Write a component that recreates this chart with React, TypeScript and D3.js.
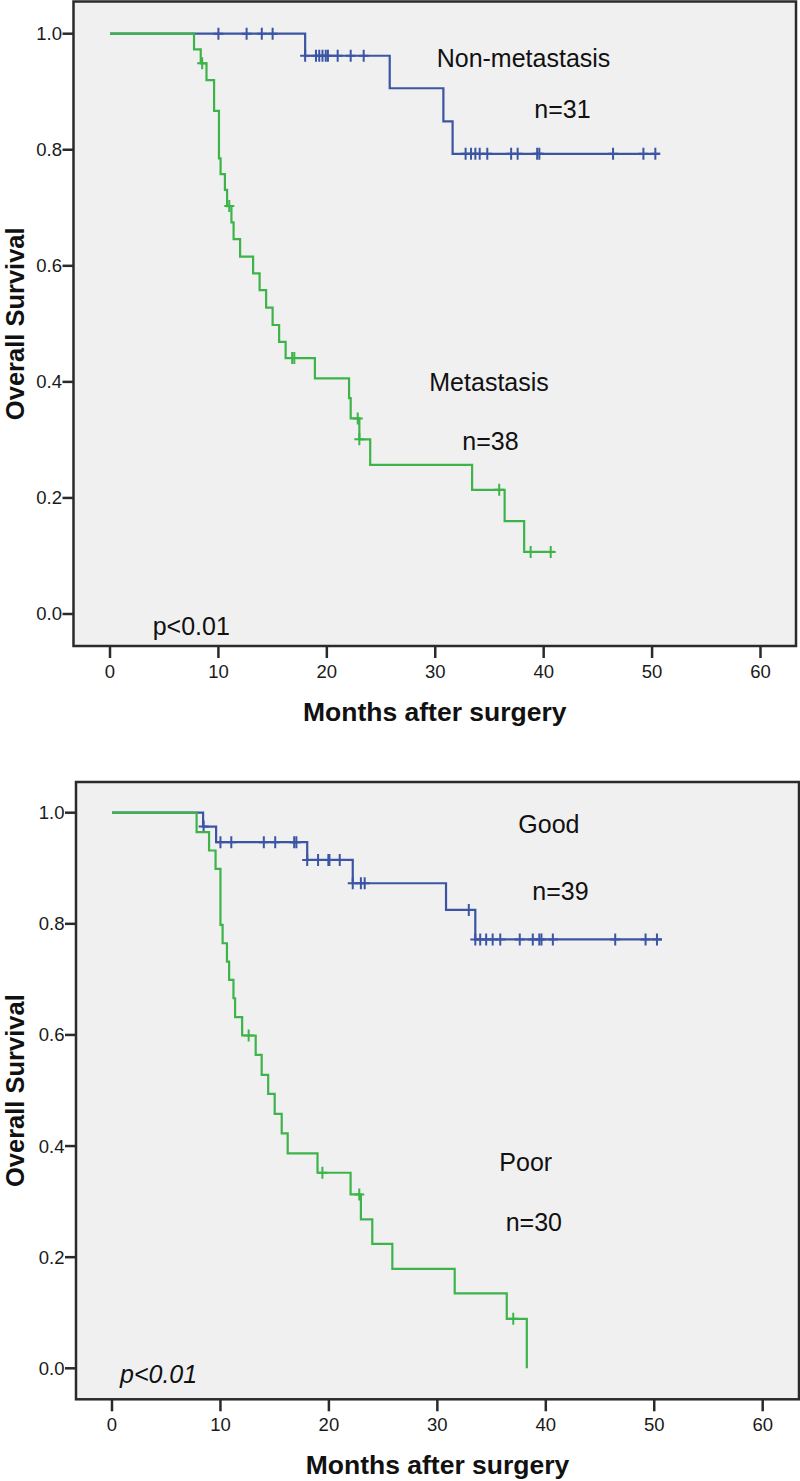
import * as React from "react";
import * as d3 from "d3";

type Step = [number, number];

// axis ticks shared by both panels
const xTicks = [0, 10, 20, 30, 40, 50, 60];
const yTicks = [0, 0.2, 0.4, 0.6, 0.8, 1.0];

// top panel: Non-metastasis (blue) vs Metastasis (green)
const nonMetaSteps: Step[] = [
  [0, 1.0], [18.0, 0.962], [25.8, 0.906], [30.75, 0.849], [31.6, 0.793],
];
const nonMetaEnd = 50.7;
const nonMetaCensored = [
  10.0, 12.6, 14.0, 15.0,
  18.0, 19.0, 19.3, 19.6, 19.9, 20.1, 21.0, 22.2, 23.4,
  32.8, 33.3, 33.7, 34.1, 34.8, 37.0, 37.6, 39.4, 39.6, 46.4, 49.2, 50.3,
];

const metaSteps: Step[] = [
  [0, 1.0], [7.75, 0.973], [8.37, 0.949], [8.9, 0.92], [9.6, 0.867],
  [10.05, 0.785], [10.2, 0.758], [10.6, 0.731], [10.8, 0.703], [11.2, 0.675],
  [11.4, 0.646], [12.0, 0.616], [13.2, 0.587], [13.8, 0.558], [14.4, 0.528],
  [15.0, 0.498], [15.6, 0.469], [16.2, 0.441], [18.9, 0.406], [22.05, 0.372],
  [22.2, 0.337], [23.0, 0.301], [24.0, 0.257], [33.4, 0.214], [36.4, 0.16],
  [38.2, 0.107],
];
const metaEnd = 41.0;
const metaCensored = [8.5, 11.0, 16.8, 17.0, 22.85, 23.0, 35.9, 38.8, 40.65];

// bottom panel: Good (blue) vs Poor (green)
const goodSteps: Step[] = [
  [0, 1.0], [8.4, 0.975], [9.6, 0.947], [18.0, 0.915], [22.2, 0.873],
  [30.8, 0.825], [33.5, 0.772],
];
const goodEnd = 50.7;
const goodCensored = [
  8.45, 10.0, 11.0, 14.0, 15.05, 16.8, 17.0,
  18.0, 19.0, 19.95, 20.05, 21.0,
  22.2, 22.95, 23.3, 32.9,
  33.5, 33.95, 34.5, 35.1, 35.8, 37.6, 38.8, 39.4, 39.6, 40.65, 46.4, 49.2, 50.25,
];

const poorSteps: Step[] = [
  [0, 1.0], [7.8, 0.965], [8.95, 0.932], [9.55, 0.899], [10.0, 0.798],
  [10.2, 0.765], [10.6, 0.732], [10.8, 0.699], [11.2, 0.666], [11.35, 0.632],
  [12.0, 0.599], [13.25, 0.564], [13.8, 0.528], [14.4, 0.494], [15.0, 0.458],
  [15.65, 0.423], [16.2, 0.387], [18.95, 0.352], [22.0, 0.313], [22.95, 0.268],
  [24.0, 0.224], [25.85, 0.179], [31.6, 0.135], [36.4, 0.089], [38.25, 0.0],
];
const poorEnd = 38.25;
const poorCensored = [12.6, 19.4, 22.8, 37.0];

const BLUE = "#3b55a4";
const GREEN = "#3db44a";
const FONT = "'Liberation Sans', Arial, Helvetica, sans-serif";

type Curve = { steps: Step[]; end: number; censored: number[]; color: string };
type Label = { text: string; x: number; y: number; italic?: boolean };

type PanelProps = {
  frame: { x0: number; y0: number; x1: number; y1: number };
  xRange: [number, number];
  yRange: [number, number];
  curves: Curve[];
  labels: Label[];
  titleY: number;
};

const survAt = (steps: Step[], t: number) => {
  let s = steps[0][1];
  for (const [st, sv] of steps) if (t >= st) s = sv;
  return s;
};

const Panel = ({ frame, xRange, yRange, curves, labels, titleY }: PanelProps) => {
  const x = d3.scaleLinear().domain([0, 60]).range(xRange);
  const y = d3.scaleLinear().domain([0, 1]).range(yRange);
  const line = d3
    .line<Step>()
    .x((d) => x(d[0]))
    .y((d) => y(d[1]))
    .curve(d3.curveStepAfter);
  const cx = (frame.x0 + frame.x1) / 2;
  const cy = (frame.y0 + frame.y1) / 2;

  return (
    <g fontFamily={FONT}>
      <rect
        x={frame.x0}
        y={frame.y0}
        width={frame.x1 - frame.x0}
        height={frame.y1 - frame.y0}
        fill="#f0f0f0"
        stroke="#2a2a2a"
        strokeWidth={2.5}
      />
      {yTicks.map((t) => (
        <g key={"y" + t}>
          <line x1={frame.x0 - 11} x2={frame.x0} y1={y(t)} y2={y(t)} stroke="#2a2a2a" strokeWidth={2.5} />
          <text x={frame.x0 - 11.5} y={y(t)} dy="0.35em" textAnchor="end" fontSize={18.5} fill="#1a1a1a">
            {d3.format(".1f")(t)}
          </text>
        </g>
      ))}
      {xTicks.map((t) => (
        <g key={"x" + t}>
          <line x1={x(t)} x2={x(t)} y1={frame.y1} y2={frame.y1 + 12} stroke="#2a2a2a" strokeWidth={2.5} />
          <text x={x(t)} y={frame.y1 + 31.5} textAnchor="middle" fontSize={18.5} fill="#1a1a1a">
            {t}
          </text>
        </g>
      ))}
      {curves.map((c, i) => {
        const pts: Step[] = [...c.steps];
        const last = c.steps[c.steps.length - 1];
        if (c.end > last[0]) pts.push([c.end, last[1]]);
        return (
          <g key={i}>
            <path d={line(pts) ?? ""} fill="none" stroke={c.color} strokeWidth={2.2} />
            {c.censored.map((t, j) => {
              const px = x(t);
              const py = y(survAt(c.steps, t));
              return (
                <path
                  key={j}
                  d={`M${px},${py - 6}V${py + 6}M${px - 5},${py}H${px + 5}`}
                  stroke={c.color}
                  strokeWidth={2}
                  fill="none"
                />
              );
            })}
          </g>
        );
      })}
      {labels.map((l, i) => (
        <text key={i} x={l.x} y={l.y} fontSize={25} fill="#111" fontStyle={l.italic ? "italic" : "normal"}>
          {l.text}
        </text>
      ))}
      <text
        transform={`translate(24,${cy}) rotate(-90)`}
        textAnchor="middle"
        fontSize={25.5}
        fontWeight="bold"
        fill="#111"
      >
        Overall Survival
      </text>
      <text x={cx} y={titleY} textAnchor="middle" fontSize={26.5} fontWeight="bold" fill="#111">
        Months after surgery
      </text>
    </g>
  );
};

export default function App() {
  return (
    <svg width={800} height={1481} style={{ position: "absolute", left: 0, top: 0, background: "#fff" }}>
      <Panel
        frame={{ x0: 73.5, y0: 1.5, x1: 796, y1: 646 }}
        xRange={[110, 760.5]}
        yRange={[614, 33.7]}
        curves={[
          { steps: nonMetaSteps, end: nonMetaEnd, censored: nonMetaCensored, color: BLUE },
          { steps: metaSteps, end: metaEnd, censored: metaCensored, color: GREEN },
        ]}
        labels={[
          { text: "Non-metastasis", x: 436.7, y: 66.7 },
          { text: "n=31", x: 534.3, y: 118.3 },
          { text: "Metastasis", x: 429.3, y: 390.7 },
          { text: "n=38", x: 462.3, y: 450 },
          { text: "p<0.01", x: 152.7, y: 635 },
        ]}
        titleY={721}
      />
      <Panel
        frame={{ x0: 76, y0: 782, x1: 799, y1: 1399.3 }}
        xRange={[112, 762.7]}
        yRange={[1368.3, 812.7]}
        curves={[
          { steps: goodSteps, end: goodEnd, censored: goodCensored, color: BLUE },
          { steps: poorSteps, end: poorEnd, censored: poorCensored, color: GREEN },
        ]}
        labels={[
          { text: "Good", x: 518.3, y: 833.3 },
          { text: "n=39", x: 532.3, y: 900 },
          { text: "Poor", x: 499.3, y: 1171 },
          { text: "n=30", x: 505.7, y: 1230.7 },
          { text: "p<0.01", x: 120, y: 1383.3, italic: true },
        ]}
        titleY={1474}
      />
    </svg>
  );
}
